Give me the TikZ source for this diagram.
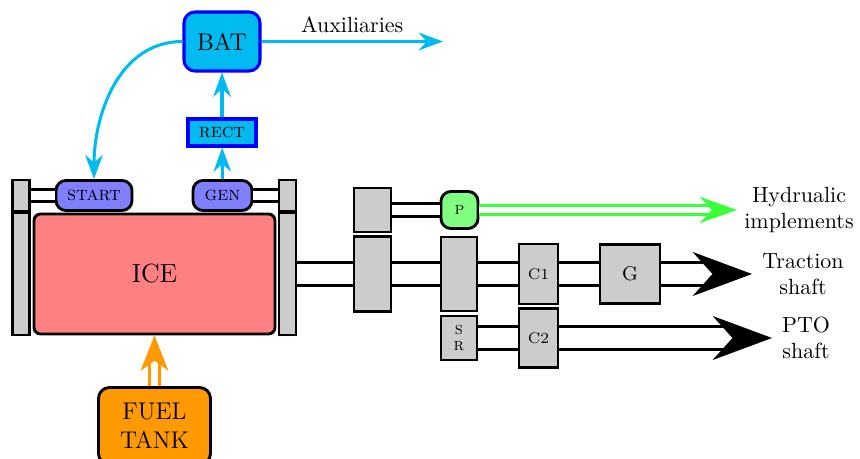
\documentclass[tikz,border=0pt]{standalone}
\usepackage{xcolor}
\usepackage{tikz}
\usetikzlibrary{arrows.meta,positioning}
\definecolor{batcyan}{RGB}{0,186,240}
\definecolor{fuelorange}{RGB}{255,153,0}
\definecolor{hydgreen}{RGB}{60,255,60}
\newlength\px
\setlength\px{0.016cm}
\tikzset{
	part/.style={draw, line width=1.3pt, fill=gray!40, inner sep=0pt},
	engine/.style={draw, line width=1.3pt, rounded corners=3pt, fill=red!50, inner sep=0pt, font=\large},
	elec/.style={draw, line width=1.3pt, rounded corners=4.5pt, fill=blue!50, inner sep=0pt, font=\small\scshape},
	store/.style={draw=blue, line width=1.4pt, fill=batcyan, inner sep=0pt},
	tank/.style={draw, line width=1.3pt, rounded corners=5pt, fill=fuelorange, inner sep=0pt, align=center, font=\fontsize{11}{13}\selectfont},
	pump/.style={draw, line width=1.3pt, rounded corners=4.5pt, fill=green!50, inner sep=0pt, font=\footnotesize\scshape},
	shaft/.style={double, double distance=9pt, line width=1.3pt},
	thinshaft/.style={double, double distance=4.5pt, line width=1.3pt},
	bigtip/.style={-{Stealth[length=27pt, width=20pt, inset=9pt]}},
	power/.style={-{Stealth[length=11pt, width=8pt, inset=3.5pt]}, batcyan, line width=1.4pt},
	hydarrow/.style={-{Stealth[length=17pt, width=12pt, inset=5.5pt]}, double=white, draw=hydgreen, double distance=3pt, line width=1.2pt},
	fuelarrow/.style={-{Stealth[length=16pt, width=12.5pt, inset=4.5pt]}, double=white, draw=fuelorange, double distance=3pt, line width=1.5pt},
	outlabel/.style={align=center}
}
\begin{document}
\begin{tikzpicture}[x=\px, y=-\px]
	\useasboundingbox (0,0) rectangle (860,459);

	% engine block
	\node[part, minimum width=17\px, minimum height=31\px] (lbart) at (21,195.5) {};
	\node[part, minimum width=17\px, minimum height=122\px] (lbarb) at (21,274) {};
	\node[part, minimum width=17\px, minimum height=31\px] (rbart) at (287.5,195.5) {};
	\node[part, minimum width=17\px, minimum height=122\px] (rbarb) at (287.5,274) {};
	\node[engine, minimum width=241\px, minimum height=120\px] (ice) at (154.5,274) {ICE};
	\node[elec, minimum width=76\px, minimum height=30\px] (start) at (94,195.5) {start};
	\node[elec, minimum width=59\px, minimum height=30\px] (gen) at (222.5,195.5) {gen};

	% electric side
	\node[store, rounded corners=5pt, font=\fontsize{11}{13}\selectfont, minimum width=76\px, minimum height=59\px] (bat) at (222,41.5) {BAT};
	\node[store, font=\small\scshape, minimum width=68\px, minimum height=27\px] (rect) at (222,132.5) {rect};
	\coordinate (auxend) at (443,41.5);

	\node[tank, minimum width=112\px, minimum height=77\px] (fuel) at (154.5,426) {FUEL\\TANK};

	% driveline
	\node[part, minimum width=37\px, minimum height=44\px] (pto1) at (372.5,210) {};
	\node[part, minimum width=37\px, minimum height=75\px] (gear1) at (372.5,274) {};
	\node[pump, minimum width=37\px, minimum height=37\px] (p) at (459.5,210) {p};
	\node[part, minimum width=36\px, minimum height=74\px] (gear2) at (459,274) {};
	\node[part, font=\footnotesize\scshape, align=center, minimum width=36\px, minimum height=44\px] (sr) at (459,338) {s\\[-2pt]r};
	\node[part, font=\scriptsize, minimum width=39\px, minimum height=60\px] (c1) at (538.5,274) {C1};
	\node[part, font=\scriptsize, minimum width=39\px, minimum height=59\px] (c2) at (538.5,338) {C2};
	\node[part, font=\small, minimum width=60\px, minimum height=59\px] (g) at (630,274) {G};

	\coordinate (hydtip) at (737,210);
	\coordinate (tractip) at (752,274);
	\coordinate (ptotip) at (772,338);
	\node[outlabel] (hydlbl) at (799,210) {Hydrualic\\implements};
	\node[outlabel] (traclbl) at (803,274) {Traction\\shaft};
	\node[outlabel] (ptolbl) at (806,338) {PTO\\shaft};

	\draw[thinshaft] (lbart) -- (start);
	\draw[thinshaft] (gen) -- (rbart);
	\draw[shaft] (rbarb) -- (gear1);
	\draw[shaft] (gear1) -- (gear2);
	\draw[shaft] (gear2) -- (c1);
	\draw[shaft] (c1) -- (g);
	\draw[shaft, bigtip] (g) -- (tractip);
	\draw[shaft] (sr) -- (c2);
	\draw[shaft, bigtip] (c2) -- (ptotip);
	\draw[thinshaft] (pto1) -- (p);
	\draw[hydarrow] (p) -- (hydtip);

	\draw[fuelarrow] (fuel) -- (ice);

	\draw[power] (gen) -- (rect);
	\draw[power] (rect) -- (bat);
	\draw[power] (bat) -- (auxend) node[midway, above, text=black] {Auxiliaries};
	\draw[power] (bat.west) to[out=180, in=90] (start.north);
\end{tikzpicture}
\end{document}
